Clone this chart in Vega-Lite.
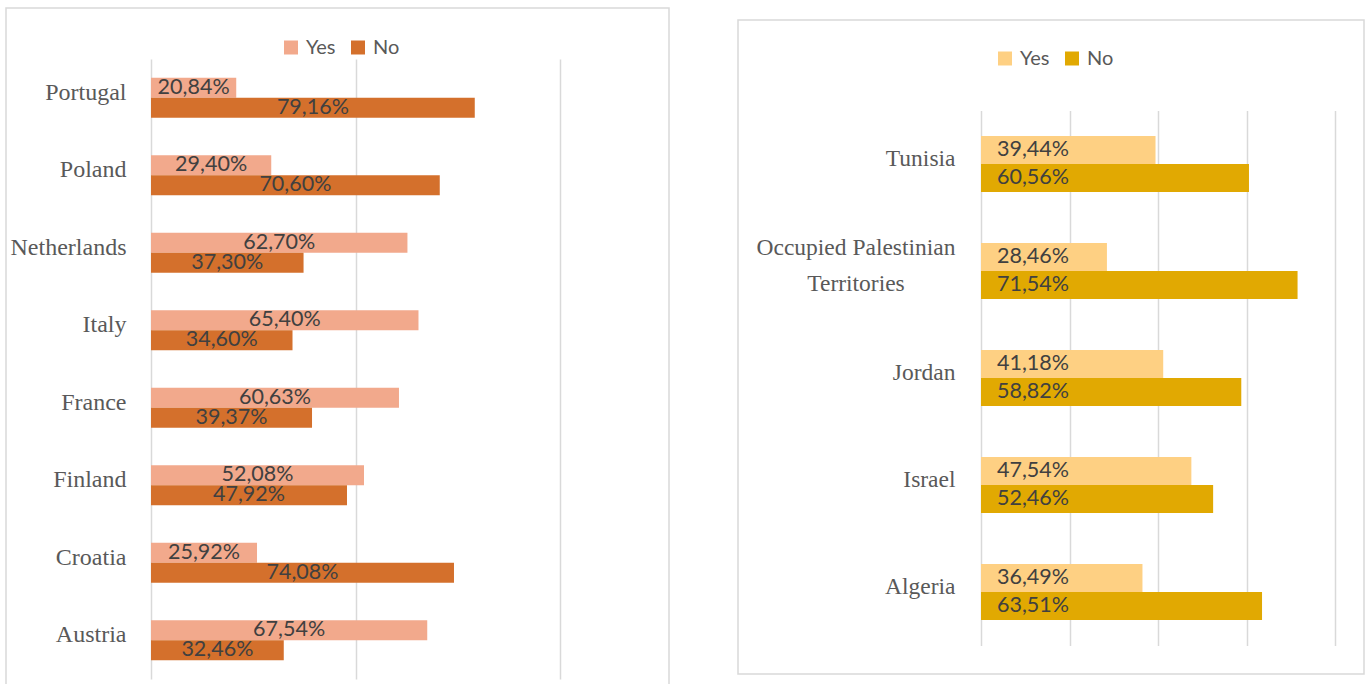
{
  "$schema": "https://vega.github.io/schema/vega-lite/v6.json",
  "padding": {"left": 5, "top": 7, "right": 0, "bottom": 0},
  "background": "white",
  "config": {
    "locale": {"number": {"decimal": ",", "thousands": ".", "grouping": [3], "currency": ["", " €"]}},
    "view": {"stroke": "#D9D9D9", "strokeWidth": 1.5},
    "axis": {"gridColor": "#D9D9D9", "gridWidth": 1.5},
    "font": "Lato"
  },
  "spacing": 67,
  "resolve": {
    "scale": {"x": "independent", "y": "independent", "color": "independent", "yOffset": "independent"},
    "legend": {"color": "independent"}
  },
  "datasets": {
    "europe": [
      {"country": "Portugal", "answer": "Yes", "value": 0.2084},
      {"country": "Portugal", "answer": "No", "value": 0.7916},
      {"country": "Poland", "answer": "Yes", "value": 0.2940},
      {"country": "Poland", "answer": "No", "value": 0.7060},
      {"country": "Netherlands", "answer": "Yes", "value": 0.6270},
      {"country": "Netherlands", "answer": "No", "value": 0.3730},
      {"country": "Italy", "answer": "Yes", "value": 0.6540},
      {"country": "Italy", "answer": "No", "value": 0.3460},
      {"country": "France", "answer": "Yes", "value": 0.6063},
      {"country": "France", "answer": "No", "value": 0.3937},
      {"country": "Finland", "answer": "Yes", "value": 0.5208},
      {"country": "Finland", "answer": "No", "value": 0.4792},
      {"country": "Croatia", "answer": "Yes", "value": 0.2592},
      {"country": "Croatia", "answer": "No", "value": 0.7408},
      {"country": "Austria", "answer": "Yes", "value": 0.6754},
      {"country": "Austria", "answer": "No", "value": 0.3246}
    ],
    "mena": [
      {"country": "Tunisia", "answer": "Yes", "value": 0.3944},
      {"country": "Tunisia", "answer": "No", "value": 0.6056},
      {"country": "Occupied Palestinian Territories", "answer": "Yes", "value": 0.2846},
      {"country": "Occupied Palestinian Territories", "answer": "No", "value": 0.7154},
      {"country": "Jordan", "answer": "Yes", "value": 0.4118},
      {"country": "Jordan", "answer": "No", "value": 0.5882},
      {"country": "Israel", "answer": "Yes", "value": 0.4754},
      {"country": "Israel", "answer": "No", "value": 0.5246},
      {"country": "Algeria", "answer": "Yes", "value": 0.3649},
      {"country": "Algeria", "answer": "No", "value": 0.6351}
    ]
  },
  "hconcat": [
    {
      "width": 663,
      "height": 690,
      "data": {"name": "europe"},
      "resolve": {"scale": {"x": "independent"}},
      "layer": [
        {
          "mark": {"type": "bar"},
          "encoding": {
            "y": {
              "field": "country", "type": "nominal",
              "sort": ["Portugal", "Poland", "Netherlands", "Italy", "France", "Finland", "Croatia", "Austria"],
              "scale": {"range": [51, 671], "paddingInner": 0.4834, "paddingOuter": 0.2417},
              "axis": {"title": null, "orient": "left", "offset": -145, "domain": false, "ticks": false, "tickSize": 0, "labelPadding": 25, "labelOffset": -5, "labelFont": "Liberation Serif", "labelFontSize": 24, "labelColor": "#595959", "grid": false}
            },
            "yOffset": {"field": "answer", "type": "nominal", "sort": ["Yes", "No"], "scale": {"paddingInner": 0, "paddingOuter": 0}},
            "x": {
              "field": "value", "type": "quantitative",
              "scale": {"domain": [0, 1], "range": [145, 554], "nice": false},
              "axis": {"title": null, "orient": "top", "values": [0, 0.5, 1], "labels": false, "ticks": false, "domain": false, "grid": true}
            },
            "color": {
              "field": "answer", "type": "nominal", "sort": ["Yes", "No"],
              "scale": {"domain": ["Yes", "No"], "range": ["#F2A98C", "#D4702C"]},
              "legend": {"orient": "none", "legendX": 275, "legendY": 29.5, "direction": "horizontal", "title": null, "symbolType": "square", "symbolSize": 196, "symbolStrokeWidth": 0, "labelFont": "Lato", "labelFontSize": 20, "labelColor": "#595959", "columnPadding": 12, "labelOffset": 5, "padding": 0}
            }
          }
        },
        {
          "mark": {"type": "text", "font": "Lato", "fontSize": 21.5, "color": "#404040", "align": "center", "baseline": "middle"},
          "encoding": {
            "y": {"field": "country", "type": "nominal", "sort": ["Portugal", "Poland", "Netherlands", "Italy", "France", "Finland", "Croatia", "Austria"]},
            "yOffset": {"field": "answer", "type": "nominal", "sort": ["Yes", "No"]},
            "x": {"field": "value", "type": "quantitative", "scale": {"domain": [0, 2], "range": [145, 554], "nice": false}, "axis": null},
            "text": {"field": "value", "type": "quantitative", "format": ".2%"}
          }
        }
      ]
    },
    {
      "spacing": 10,
      "vconcat": [
        {
          "width": 626,
          "height": 1,
          "view": {"stroke": null},
          "data": {"values": [{}]},
          "mark": {"type": "rule", "opacity": 0},
          "encoding": {}
        },
        {
          "width": 626,
          "height": 654,
          "data": {"name": "mena"},
          "layer": [
            {
              "mark": {"type": "bar"},
              "encoding": {
                "y": {
                  "field": "country", "type": "nominal",
                  "sort": ["Tunisia", "Occupied Palestinian Territories", "Jordan", "Israel", "Algeria"],
                  "scale": {"range": [90.5, 625.5], "paddingInner": 0.4766, "paddingOuter": 0.2383},
                  "axis": {"title": null, "orient": "left", "offset": -243, "domain": false, "ticks": false, "tickSize": 0, "labelLimit": 400, "labelFont": "Liberation Serif", "labelFontSize": 23.5, "labelColor": "#595959", "labelLineHeight": 36, "grid": false,
                    "labelPadding": {"condition": {"test": "datum.value == 'Occupied Palestinian Territories'", "value": 125.5}, "value": 26},
                    "labelAlign": {"condition": {"test": "datum.value == 'Occupied Palestinian Territories'", "value": "center"}, "value": "right"},
                    "labelOffset": {"condition": {"test": "datum.value == 'Occupied Palestinian Territories'", "value": -23}, "value": -5},
                    "labelExpr": "datum.value == 'Occupied Palestinian Territories' ? ['Occupied Palestinian', 'Territories'] : datum.label"}
                },
                "yOffset": {"field": "answer", "type": "nominal", "sort": ["Yes", "No"], "scale": {"paddingInner": 0, "paddingOuter": 0}},
                "x": {
                  "field": "value", "type": "quantitative",
                  "scale": {"domain": [0, 0.8], "range": [243, 597], "nice": false},
                  "axis": {"title": null, "orient": "top", "values": [0, 0.2, 0.4, 0.6, 0.8], "labels": false, "ticks": false, "domain": false, "grid": true}
                },
                "color": {
                  "field": "answer", "type": "nominal", "sort": ["Yes", "No"],
                  "scale": {"domain": ["Yes", "No"], "range": ["#FED083", "#E1A902"]},
                  "legend": {"orient": "none", "legendX": 257, "legendY": 40.5, "direction": "horizontal", "title": null, "symbolType": "square", "symbolSize": 196, "symbolStrokeWidth": 0, "labelFont": "Lato", "labelFontSize": 20, "labelColor": "#595959", "columnPadding": 12, "labelOffset": 5, "padding": 0}
                }
              }
            },
            {
              "mark": {"type": "text", "font": "Lato", "fontSize": 21.5, "color": "#404040", "align": "left", "baseline": "middle", "dx": 16},
              "encoding": {
                "y": {"field": "country", "type": "nominal", "sort": ["Tunisia", "Occupied Palestinian Territories", "Jordan", "Israel", "Algeria"]},
                "yOffset": {"field": "answer", "type": "nominal", "sort": ["Yes", "No"]},
                "x": {"datum": 0, "type": "quantitative"},
                "text": {"field": "value", "type": "quantitative", "format": ".2%"}
              }
            }
          ]
        }
      ]
    }
  ]
}
